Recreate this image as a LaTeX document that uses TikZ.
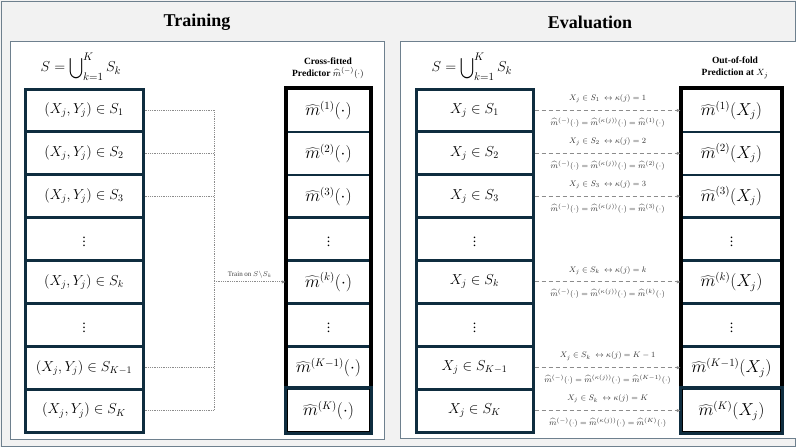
\documentclass[tikz,border=0pt]{standalone}
\usepackage{fontspec}
\setmainfont{Liberation Serif}
\usetikzlibrary{arrows.meta}
\definecolor{navy}{HTML}{0F2D3F}
\definecolor{bgg}{HTML}{F2F2F2}
\definecolor{frm}{HTML}{6E808E}
\definecolor{lnk}{HTML}{8C8C8C}
\newcommand{\bigU}{\mathop{\vcenter{\hbox{\scalebox{1.25}[1.45]{$\displaystyle\bigcup$}}}}\nolimits}
\begin{document}
\begin{tikzpicture}[x=1pt,y=-1pt,
  panel/.style={draw=frm,line width=1pt,fill=white},
  lrow/.style={draw=navy,line width=3pt,fill=white,inner sep=0pt,minimum height=42.875pt,font=\fontsize{14}{16}\selectfont},
  rrow/.style={draw=navy,line width=2.5pt,fill=white,inner sep=0pt,minimum height=42.875pt,font=\fontsize{16}{18}\selectfont},
  ttl/.style={font=\fontsize{18}{20}\selectfont\bfseries},
  hdr/.style={font=\fontsize{9.5}{11}\selectfont\bfseries,align=center},
  dotl/.style={draw=lnk,line width=0.9pt,dash pattern=on 0.9pt off 0.9pt},
  dashl/.style={draw=lnk,line width=1pt,dash pattern=on 4pt off 3pt},
  tip/.style={-{Latex[length=4pt,width=3.5pt]}},
  lbl/.style={font=\fontsize{8}{9}\selectfont,text=black!80,inner sep=0pt}
]
\useasboundingbox (0,0) rectangle (796,447);
\fill[bgg] (0,0) rectangle (796,447);
\draw[frm,line width=1pt] (1,1) rectangle (795,446);
\node[ttl] (tt) at (197,22) {Training};
\node[ttl] (te) at (590,22) {Evaluation};
\draw[panel] (10,41) rectangle (384,439);
\draw[panel] (400,41) rectangle (797,438);

% formulas
\node[font=\fontsize{15}{17}\selectfont] (f1) at (81,67) {$S=\bigU_{k=1}^{K}S_k$};
\node[font=\fontsize{15}{17}\selectfont] (f2) at (472,67) {$S=\bigU_{k=1}^{K}S_k$};
\node[hdr] (h1) at (328,68) {Cross-fitted\\[1pt]Predictor $\widehat{m}^{(-)}(\cdot)$};
\node[hdr] (h2) at (735,68) {Out-of-fold\\[1pt]Prediction at $X_j$};

% training left column
\foreach \i/\t in {1/{(X_j,Y_j)\in S_1},2/{(X_j,Y_j)\in S_2},3/{(X_j,Y_j)\in S_3},4/{\vdots},5/{(X_j,Y_j)\in S_k},6/{\vdots},7/{(X_j,Y_j)\in S_{K-1}},8/{(X_j,Y_j)\in S_K}}
  \node[lrow,minimum width=118pt] (L\i) at (84,{89+(\i-0.5)*42.875}) {$\t$};
% training right column
\foreach \i/\t in {1/{(1)},2/{(2)},3/{(3)},5/{(k)},7/{(K-1)},8/{(K)}}
  \node[rrow,minimum width=83pt] (R\i) at (328.5,{89+(\i-0.5)*42.875}) {$\widehat{m}^{\t}(\cdot)$};
\foreach \i in {4,6}
  \node[rrow,minimum width=83pt,font=\fontsize{14}{16}\selectfont] (R\i) at (328.5,{89+(\i-0.5)*42.875}) {$\vdots$};
\draw[line width=4pt] (R1.north west) rectangle (R8.south east);
\draw[navy,line width=3pt] (R8.north west) rectangle (R8.south east);

% training connectors
\coordinate (bus) at (214,100);
\foreach \i in {1,2,3,7,8}
  \draw[dotl] (L\i.east) -- (L\i.east -| bus);
\draw[dotl] (L1.east -| bus) -- (L8.east -| bus);
\draw[dotl,tip] (L5.east -| bus) -- node[above=3pt,font=\fontsize{7}{8}\selectfont,text=black!75,inner sep=0pt] (tr) {Train on $S\backslash S_k$} (R5.west);

% evaluation left column
\foreach \i/\t in {1/{X_j\in S_1},2/{X_j\in S_2},3/{X_j\in S_3},4/{\vdots},5/{X_j\in S_k},6/{\vdots},7/{X_j\in S_{K-1}},8/{X_j\in S_K}}
  \node[lrow,minimum width=117pt] (E\i) at (474.5,{89+(\i-0.5)*42.875}) {$\t$};
% evaluation right column
\foreach \i/\t in {1/{(1)},2/{(2)},3/{(3)},5/{(k)},7/{(K-1)},8/{(K)}}
  \node[rrow,minimum width=99pt] (P\i) at (731.5,{89+(\i-0.5)*42.875}) {$\widehat{m}^{\t}(X_j)$};
\foreach \i in {4,6}
  \node[rrow,minimum width=99pt,font=\fontsize{14}{16}\selectfont] (P\i) at (731.5,{89+(\i-0.5)*42.875}) {$\vdots$};
\draw[line width=4pt] (P1.north west) rectangle (P8.south east);
\draw[navy,line width=3pt] (P8.north west) rectangle (P8.south east);

% evaluation connectors
\foreach \i/\s/\k in {1/1/1,2/2/2,3/3/3,5/k/k,7/k/K-1,8/k/K}
  \draw[dashl,tip] (E\i.east) --
    node[lbl,above=7pt] (a\i) {$X_j\in S_{\s}\ \leftrightarrow\kappa(j)=\k$}
    node[lbl,below=7pt] (b\i) {$\widehat{m}^{(-)}(\cdot)=\widehat{m}^{(\kappa(j))}(\cdot)=\widehat{m}^{(\k)}(\cdot)$}
    (P\i.west);
\end{tikzpicture}
\end{document}
